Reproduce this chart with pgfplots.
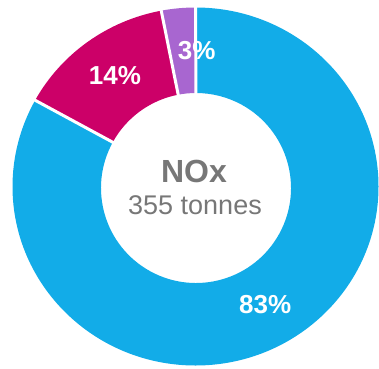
\documentclass[border=0pt]{standalone}
\usepackage{pgfplots}
\pgfplotsset{compat=1.18}
\usepackage{pgfplotstable}
\usepackage{fontspec}
\setmainfont{Liberation Sans}
\definecolor{cBlue}{HTML}{12ACE8}
\definecolor{cMag}{HTML}{CC0068}
\definecolor{cPur}{HTML}{A866D0}
\definecolor{cGray}{HTML}{777777}

\pgfplotstableread{
name value
A 83
B 14
C 3
}\noxdata

\pgfplotstablegetelem{0}{value}\of\noxdata \let\vA\pgfplotsretval
\pgfplotstablegetelem{1}{value}\of\noxdata \let\vB\pgfplotsretval
\pgfplotstablegetelem{2}{value}\of\noxdata \let\vC\pgfplotsretval
\pgfmathsetmacro\aA{90}
\pgfmathsetmacro\aB{\aA-3.6*\vA}
\pgfmathsetmacro\aC{\aB-3.6*\vB}
\pgfmathsetmacro\aD{\aC-3.6*\vC}
\pgfmathsetmacro\mA{(\aA+\aB)/2}
\pgfmathsetmacro\mB{(\aB+\aC)/2}
\pgfmathsetmacro\mC{(\aC+\aD)/2}

\def\cx{195.5}\def\cy{181.5}
\def\rox{183}\def\roy{179}
\def\ix{196}\def\iy{180}
\def\ri{95}
\def\rl{137}

\newcommand\donutslice[3]{%
  \fill[#3] (axis cs:{\cx+\rox*cos(#1)},{\cy+\roy*sin(#1)})
    arc[start angle=#1, end angle=#2, x radius=\rox pt, y radius=\roy pt]
    -- (axis cs:{\ix+\ri*cos(#2)},{\iy+\ri*sin(#2)})
    arc[start angle=#2, end angle=#1, radius=\ri pt] -- cycle;}
\newcommand\sep[1]{%
  \draw[white, line width=3pt] (axis cs:{\ix+(\ri-2)*cos(#1)},{\iy+(\ri-2)*sin(#1)})
    -- (axis cs:{\cx+(\rox+2)*cos(#1)},{\cy+(\roy+2)*sin(#1)});}

\begin{document}
\begin{tikzpicture}
\begin{axis}[
  scale only axis, width=379pt, height=368pt,
  xmin=0, xmax=379, ymin=0, ymax=368,
  hide axis, clip=false]
\path (axis cs:0,0) rectangle (axis cs:379,368);
\donutslice{\aA}{\aB}{cBlue}
\donutslice{\aB}{\aC}{cMag}
\donutslice{\aC}{\aD}{cPur}
\sep{\aB}
\sep{\aC}
\sep{\aD}
\node[white, font=\bfseries\fontsize{26}{26}\selectfont]
  at (axis cs:{\cx+\rl*cos(\mA)},{\cy+\rl*sin(\mA)}) {83\%};
\node[white, font=\bfseries\fontsize{26}{26}\selectfont]
  at (axis cs:{\cx+\rl*cos(\mB)},{\cy+\rl*sin(\mB)}) {14\%};
\node[white, font=\bfseries\fontsize{26}{26}\selectfont, xshift=14pt]
  at (axis cs:{\cx+\rl*cos(\mC)},{\cy+\rl*sin(\mC)}) {3\%};
\node[cGray, font=\bfseries\fontsize{32}{32}\selectfont] at (axis cs:194,197) {NOx};
\node[cGray, font=\fontsize{27}{27}\selectfont] at (axis cs:195,163) {355 tonnes};
\end{axis}
\end{tikzpicture}
\end{document}
